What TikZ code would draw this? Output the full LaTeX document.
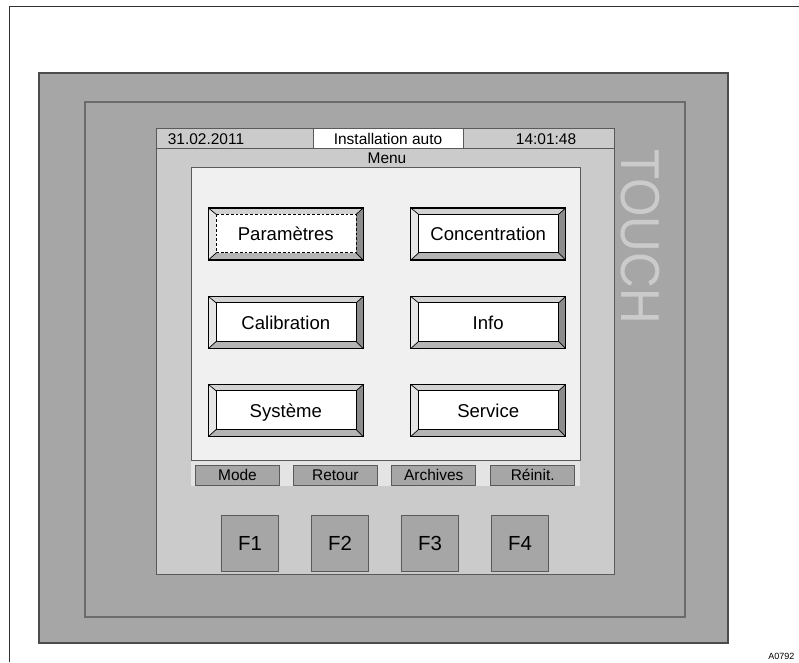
\documentclass[tikz,border=0pt]{standalone}
\usepackage{fontspec}
\setmainfont{Liberation Sans}
\definecolor{panel}{HTML}{A6A6A6}
\definecolor{screen}{HTML}{CBCBCB}
\definecolor{pane}{HTML}{F0F0F0}
\definecolor{strip}{HTML}{E4E4E4}
\definecolor{edge}{HTML}{5A5A5A}
\definecolor{bevtop}{HTML}{D2D2D2}
\definecolor{bevleft}{HTML}{E6E6E6}
\definecolor{bevright}{HTML}{8C8C8C}
\definecolor{bevbot}{HTML}{B4B4B4}

\begin{document}
\begin{tikzpicture}[x=0.025cm,y=-0.025cm,font=\fontsize{11}{13}\selectfont]
	\tikzstyle{hdtext}=[inner sep=0pt,text height=7.9pt,text depth=0pt]
	\tikzstyle{softkey}=[draw=edge,fill=panel,line width=0.6pt,minimum width=59.6pt,minimum height=14.2pt,inner sep=0pt,text height=7.9pt,text depth=0pt]
	\tikzstyle{fkey}=[draw=edge,fill=panel,line width=0.6pt,minimum width=40.8pt,minimum height=40.4pt,inner sep=0pt,font=\fontsize{14.5}{16}\selectfont,text height=10.4pt,text depth=0pt]
	\tikzstyle{face}=[draw=black,fill=white,line width=0.6pt]
	\tikzstyle{focused}=[face/.style={draw=black,fill=white,line width=0.6pt,dash pattern=on 2pt off 1.4pt}]
	\tikzstyle{menubtn}=[draw=black,fill=white,line width=0.8pt,minimum width=110pt,minimum height=36.9pt,inner sep=0pt,
		font=\fontsize{13.2}{15}\selectfont,text height=9.5pt,text depth=0pt,
		path picture={
			\coordinate (nw) at (path picture bounding box.north west);
			\coordinate (ne) at (path picture bounding box.north east);
			\coordinate (sw) at (path picture bounding box.south west);
			\coordinate (se) at (path picture bounding box.south east);
			\coordinate (inw) at ([shift={(5.5pt,-4.5pt)}]nw);
			\coordinate (ine) at ([shift={(-5pt,-4.5pt)}]ne);
			\coordinate (isw) at ([shift={(5.5pt,5pt)}]sw);
			\coordinate (ise) at ([shift={(-5pt,5pt)}]se);
			\fill[bevtop] (nw) -- (ne) -- (ine) -- (inw) -- cycle;
			\fill[bevleft] (nw) -- (inw) -- (isw) -- (sw) -- cycle;
			\fill[bevright] (ne) -- (se) -- (ise) -- (ine) -- cycle;
			\fill[bevbot] (sw) -- (isw) -- (ise) -- (se) -- cycle;
			\draw[line width=0.5pt] (nw) -- (inw) (ne) -- (ine) (sw) -- (isw) (se) -- (ise);
			\draw[face] (inw) rectangle (ise);
		}]
	\useasboundingbox (0,0) rectangle (799,662);
	% sheet frame
	\draw[black!80,line width=0.7pt] (799,6) -- (9,6) -- (9,662);
	% housing
	\filldraw[fill=panel,draw=black!70,line width=1.2pt] (39,73) rectangle (728,643);
	\draw[black!58,line width=1.2pt] (85,102) rectangle (685,617);
	\node[text=screen,rotate=-90,xscale=0.9,inner sep=0pt,font=\fontsize{39}{40}\selectfont] (brand) at (640,236.5) {TOUCH};
	% display
	\filldraw[fill=screen,draw=edge,line width=0.7pt] (156,128) rectangle (614,574);
	\draw[edge,line width=0.7pt] (156,148) -- (614,148);
	\filldraw[fill=white,draw=edge,line width=0.7pt] (313,128) rectangle (463,148);
	\node[hdtext] (date) at (206,138.5) {31.02.2011};
	\node[hdtext] (mode) at (388,138.5) {Installation auto};
	\node[hdtext] (clock) at (546,138.5) {14:01:48};
	\node[hdtext] (title) at (387,157.5) {Menu};
	\filldraw[fill=pane,draw=edge,line width=0.7pt] (191,167) rectangle (580,460);
	\fill[strip] (191,460.5) rectangle (580,486);
	% menu buttons
	\node[menubtn,focused] (param) at (285.8,234) {Paramètres};
	\node[menubtn] (conc) at (488.2,234) {Concentration};
	\node[menubtn] (calib) at (285.8,322.5) {Calibration};
	\node[menubtn] (info) at (488.2,322.5) {Info};
	\node[menubtn] (sys) at (285.8,410.5) {Système};
	\node[menubtn] (serv) at (488.2,410.5) {Service};
	% soft keys
	\node[softkey] (sk1) at (237.5,475) {Mode};
	\node[softkey] (sk2) at (335.3,475) {Retour};
	\node[softkey] (sk3) at (433.8,475) {Archives};
	\node[softkey] (sk4) at (532.7,475) {Réinit.};
	% function keys
	\node[fkey] (f1) at (250,543.5) {F1};
	\node[fkey] (f2) at (340,543.5) {F2};
	\node[fkey] (f3) at (430,543.5) {F3};
	\node[fkey] (f4) at (520,543.5) {F4};
	\node[anchor=north west,inner sep=0pt,font=\fontsize{6.4}{7}\selectfont] (ref) at (768,653) {A0792};
\end{tikzpicture}
\end{document}
